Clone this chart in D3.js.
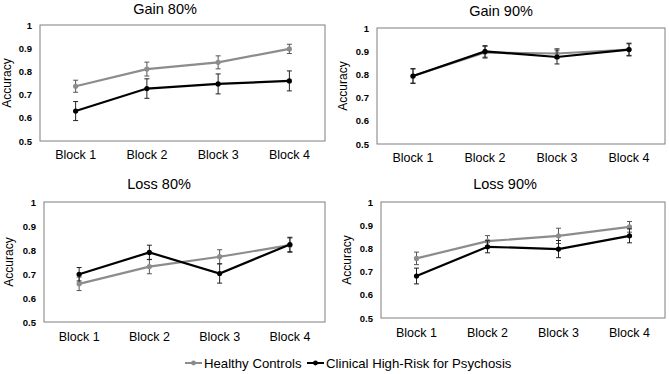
<!DOCTYPE html>
<html>
<head>
<meta charset="utf-8">
<script src="https://cdn.jsdelivr.net/npm/d3@7"></script>
<style>
  body { margin: 0; background: #fff; }
  svg { display: block; font-family: "Liberation Sans", Arial, sans-serif; }
</style>
</head>
<body>
<div class="chart"></div>
<script>
// ---- data ----
const blocks = ["Block 1", "Block 2", "Block 3", "Block 4"];
const yTicks = [0.5, 0.6, 0.7, 0.8, 0.9, 1];
const titles = ["Gain 80%", "Gain 90%", "Loss 80%", "Loss 90%"];
const seriesNames = ["Healthy Controls", "Clinical High-Risk for Psychosis"];

const gain80Healthy = [0.736, 0.810, 0.839, 0.897];
const gain80HealthyErr = [0.026, 0.030, 0.028, 0.020];
const gain80Chr = [0.629, 0.726, 0.746, 0.759];
const gain80ChrErr = [0.041, 0.042, 0.043, 0.043];

const gain90Healthy = [0.793, 0.895, 0.890, 0.907];
const gain90HealthyErr = [0.030, 0.025, 0.021, 0.028];
const gain90Chr = [0.793, 0.899, 0.875, 0.907];
const gain90ChrErr = [0.032, 0.025, 0.030, 0.025];

const loss80Healthy = [0.659, 0.731, 0.772, 0.820];
const loss80HealthyErr = [0.028, 0.030, 0.029, 0.030];
const loss80Chr = [0.699, 0.790, 0.702, 0.823];
const loss80ChrErr = [0.028, 0.030, 0.040, 0.030];

const loss90Healthy = [0.757, 0.831, 0.854, 0.893];
const loss90HealthyErr = [0.027, 0.024, 0.033, 0.023];
const loss90Chr = [0.681, 0.807, 0.797, 0.854];
const loss90ChrErr = [0.034, 0.026, 0.037, 0.030];

const panelData = [
  [[gain80Healthy, gain80HealthyErr], [gain80Chr, gain80ChrErr]],
  [[gain90Healthy, gain90HealthyErr], [gain90Chr, gain90ChrErr]],
  [[loss80Healthy, loss80HealthyErr], [loss80Chr, loss80ChrErr]],
  [[loss90Healthy, loss90HealthyErr], [loss90Chr, loss90ChrErr]]
];

// ---- layout ----
const colors = ["#8c8c8c", "#000000"];
const boxes = [
  { left: 40,  right: 325, top: 25,  bottom: 141, titleX: 165, titleY: 14,  labelY: 159, yLabX: 7 },
  { left: 377, right: 665, top: 28,  bottom: 144, titleX: 501, titleY: 15.5, labelY: 162, yLabX: 343 },
  { left: 44,  right: 325, top: 202, bottom: 322, titleX: 159, titleY: 189, labelY: 341, yLabX: 9 },
  { left: 381, right: 665, top: 202, bottom: 318, titleX: 505, titleY: 189, labelY: 337, yLabX: 347 }
];

const svg = d3.select("div.chart").append("svg")
  .attr("width", 669)
  .attr("height", 374);

function plot(i) {
  const b = boxes[i];
  const g = svg.append("g");

  const x = d3.scalePoint().domain(blocks).range([b.left, b.right]).padding(0.5);
  const y = d3.scaleLinear().domain([0.5, 1]).range([b.bottom, b.top]);

  g.append("rect")
    .attr("x", b.left).attr("y", b.top)
    .attr("width", b.right - b.left).attr("height", b.bottom - b.top)
    .attr("fill", "none").attr("stroke", "#7f7f7f").attr("stroke-width", 1);

  // y ticks (labels only, no tick lines)
  const yAxis = g.append("g")
    .attr("transform", `translate(${b.left},0)`)
    .call(d3.axisLeft(y).tickValues(yTicks).tickSize(0).tickPadding(8).tickFormat(d3.format("")));
  yAxis.select(".domain").remove();
  yAxis.selectAll("text")
    .attr("font-size", 9.5).attr("font-weight", "bold")
    .attr("font-family", "'Liberation Sans', Arial, sans-serif").attr("fill", "#000");

  // x labels
  g.selectAll("text.xlab")
    .data(blocks)
    .enter().append("text")
      .attr("class", "xlab")
      .attr("x", d => x(d))
      .attr("y", b.labelY)
      .attr("text-anchor", "middle")
      .attr("font-size", 12.5)
      .text(d => d);

  g.append("text")
    .attr("transform", `translate(${b.yLabX},${(b.top + b.bottom) / 2}) rotate(-90)`)
    .attr("text-anchor", "middle")
    .attr("dominant-baseline", "central")
    .attr("font-size", 12)
    .text("Accuracy");

  g.append("text")
    .attr("x", b.titleX).attr("y", b.titleY)
    .attr("text-anchor", "middle")
    .attr("font-size", 14.5)
    .text(titles[i]);

  panelData[i].forEach((s, k) => {
    const pts = blocks.map((bl, j) => ({ block: bl, v: s[0][j], e: s[1][j] }));
    const line = d3.line().x(d => x(d.block)).y(d => y(d.v));

    g.append("path")
      .attr("d", line(pts))
      .attr("fill", "none")
      .attr("stroke", colors[k])
      .attr("stroke-width", 2.2);

    const eb = g.selectAll(null).data(pts).enter().append("g")
      .attr("stroke", k === 0 ? "#555" : "#222")
      .attr("stroke-width", 1);
    eb.append("line")
      .attr("x1", d => x(d.block)).attr("x2", d => x(d.block))
      .attr("y1", d => y(d.v - d.e)).attr("y2", d => y(d.v + d.e));
    eb.append("line")
      .attr("x1", d => x(d.block) - 2.5).attr("x2", d => x(d.block) + 2.5)
      .attr("y1", d => y(d.v + d.e)).attr("y2", d => y(d.v + d.e));
    eb.append("line")
      .attr("x1", d => x(d.block) - 2.5).attr("x2", d => x(d.block) + 2.5)
      .attr("y1", d => y(d.v - d.e)).attr("y2", d => y(d.v - d.e));

    g.selectAll(null).data(pts).enter().append("circle")
      .attr("cx", d => x(d.block))
      .attr("cy", d => y(d.v))
      .attr("r", 2.6)
      .attr("fill", colors[k]);
  });
}

titles.forEach((t, i) => plot(i));

// legend
const legendX = [185, 307];
const leg = svg.append("g");
seriesNames.forEach((name, k) => {
  const lx = legendX[k];
  leg.append("line")
    .attr("x1", lx).attr("x2", lx + 17)
    .attr("y1", 363).attr("y2", 363)
    .attr("stroke", colors[k]).attr("stroke-width", 2);
  leg.append("circle")
    .attr("cx", lx + 8.5).attr("cy", 363).attr("r", 2.4)
    .attr("fill", colors[k]);
  leg.append("text")
    .attr("x", lx + 19).attr("y", 367.5)
    .attr("font-size", 13.2)
    .text(name);
});
</script>
</body>
</html>
